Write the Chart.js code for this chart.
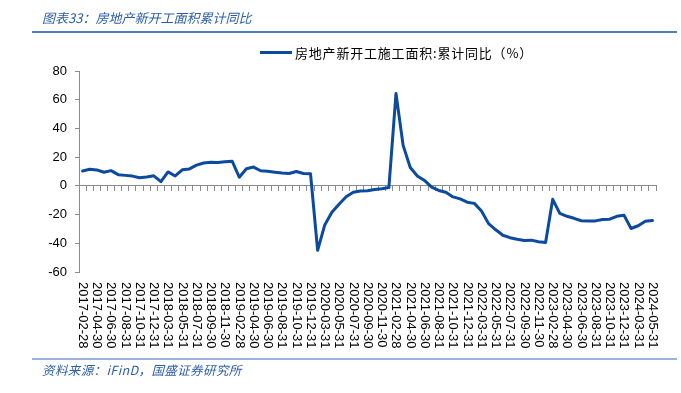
<!DOCTYPE html>
<html>
<head>
<meta charset="utf-8">
<script src="https://cdn.jsdelivr.net/npm/chart.js@4/dist/chart.umd.min.js"></script>
<style>
  html, body { margin: 0; padding: 0; background: #fff; }
  #wrap { position: relative; width: 681px; height: 393px; overflow: hidden; }
  #c { position: absolute; left: 0; top: 0; }
  .title { position: absolute; left: 42px; top: 8px; font: italic 13px "Noto Sans CJK SC", sans-serif; color: #2c5ea8; white-space: nowrap; }
  .tline { position: absolute; left: 32px; top: 31px; width: 645px; height: 2px; background: #4f7cc4; }
  .fline { position: absolute; left: 32px; top: 358px; width: 645px; height: 2px; background: #9bb4dc; }
  .foot { position: absolute; left: 42px; top: 360px; font: italic 12.5px "Noto Sans CJK SC", sans-serif; color: #2c5ea8; white-space: nowrap; letter-spacing: 0.4px; }
  .legend { position: absolute; left: 260px; top: 43px; height: 18px; display: flex; align-items: center; font: 13px "Noto Sans CJK SC", sans-serif; color: #000; white-space: nowrap; letter-spacing: 0.8px; }
  .legend .sw { display: inline-block; width: 32px; height: 3px; background: #0b4a9e; margin-right: 3px; }
</style>
</head>
<body>
<div id="wrap">
  <canvas id="c" width="681" height="393"></canvas>
  <div class="title">图表33：房地产新开工面积累计同比</div>
  <div class="tline"></div>
  <div class="legend"><span class="sw"></span><span id="legText"></span></div>
  <div class="fline"></div>
  <div class="foot">资料来源：iFinD，国盛证券研究所</div>
</div>
<script>
const seriesName = '房地产新开工施工面积:累计同比（%）';

const categories = [
  '2017-02-28','2017-03-31','2017-04-30','2017-05-31','2017-06-30','2017-07-31','2017-08-31','2017-09-30','2017-10-31','2017-11-30','2017-12-31',
  '2018-02-28','2018-03-31','2018-04-30','2018-05-31','2018-06-30','2018-07-31','2018-08-31','2018-09-30','2018-10-31','2018-11-30','2018-12-31',
  '2019-02-28','2019-03-31','2019-04-30','2019-05-31','2019-06-30','2019-07-31','2019-08-31','2019-09-30','2019-10-31','2019-11-30','2019-12-31',
  '2020-02-29','2020-03-31','2020-04-30','2020-05-31','2020-06-30','2020-07-31','2020-08-31','2020-09-30','2020-10-31','2020-11-30','2020-12-31',
  '2021-02-28','2021-03-31','2021-04-30','2021-05-31','2021-06-30','2021-07-31','2021-08-31','2021-09-30','2021-10-31','2021-11-30','2021-12-31',
  '2022-02-28','2022-03-31','2022-04-30','2022-05-31','2022-06-30','2022-07-31','2022-08-31','2022-09-30','2022-10-31','2022-11-30','2022-12-31',
  '2023-02-28','2023-03-31','2023-04-30','2023-05-31','2023-06-30','2023-07-31','2023-08-31','2023-09-30','2023-10-31','2023-11-30','2023-12-31',
  '2024-02-29','2024-03-31','2024-04-30','2024-05-31'
];

const values = [
  10.4, 11.6, 11.1, 9.5, 10.6, 7.8, 7.3, 6.8, 5.6, 6.1, 7.0,
  2.9, 9.7, 6.9, 11.2, 11.8, 14.4, 15.9, 16.4, 16.3, 16.8, 17.2,
  6.0, 11.9, 13.1, 10.5, 10.1, 9.5, 8.9, 8.6, 10.0, 8.6, 8.5,
  -44.9, -27.2, -18.4, -12.8, -7.6, -4.5, -3.6, -3.4, -2.6, -2.0, -1.2,
  64.3, 28.2, 12.8, 6.9, 3.8, -0.9, -3.2, -4.5, -7.7, -9.1, -11.4,
  -12.2, -17.5, -26.3, -30.6, -34.4, -36.1, -37.2, -38.0, -37.8, -38.9, -39.4,
  -9.4, -19.2, -21.2, -22.6, -24.3, -24.5, -24.4, -23.4, -23.2, -21.2, -20.4,
  -29.7, -27.8, -24.6, -24.2
];

const yTicks = [-60, -40, -20, 0, 20, 40, 60, 80];

document.getElementById('legText').textContent = seriesName;

const rotatedLabels = {
  id: 'rotatedLabels',
  afterDraw(chart) {
    const xs = chart.scales.x;
    const ctx = chart.ctx;
    ctx.save();
    ctx.fillStyle = '#000';
    ctx.font = '13px "Liberation Sans", Arial, sans-serif';
    ctx.textAlign = 'left';
    ctx.textBaseline = 'middle';
    categories.forEach((lab, i) => {
      if (i % 2 !== 0) return;
      const x = xs.getPixelForValue(i);
      ctx.save();
      ctx.translate(x, 282);
      ctx.rotate(Math.PI / 2);
      ctx.fillText(lab, 0, 0);
      ctx.restore();
    });
    ctx.restore();
  }
};

new Chart(document.getElementById('c'), {
  type: 'line',
  data: {
    labels: categories,
    datasets: [{
      label: seriesName,
      data: values,
      borderColor: '#0b4a9e',
      backgroundColor: '#0b4a9e',
      borderWidth: 3,
      pointRadius: 0,
      tension: 0,
      borderJoinStyle: 'round',
      borderCapStyle: 'round'
    }]
  },
  options: {
    responsive: false,
    animation: false,
    devicePixelRatio: 1,
    layout: { padding: { left: 0, right: 25, top: 71, bottom: 121 } },
    plugins: { legend: { display: false }, title: { display: false }, tooltip: { enabled: false } },
    scales: {
      x: {
        type: 'category',
        position: { y: 0 },
        offset: true,
        ticks: { display: false },
        grid: { display: true, drawOnChartArea: false, drawTicks: true, tickLength: 5, color: '#8c8c8c', offset: true },
        border: { display: true, color: '#8c8c8c', width: 1 }
      },
      y: {
        min: -60,
        max: 80,
        afterBuildTicks(scale) { scale.ticks = yTicks.map(v => ({ value: v })); },
        afterFit(scale) { scale.width = 79; },
        ticks: { color: '#000', font: { family: '"Liberation Sans", Arial, sans-serif', size: 13 }, padding: 8 },
        grid: { display: true, drawOnChartArea: false, drawTicks: true, tickLength: 4, color: '#8c8c8c' },
        border: { display: true, color: '#8c8c8c', width: 1 }
      }
    }
  },
  plugins: [rotatedLabels]
});
</script>
</body>
</html>
